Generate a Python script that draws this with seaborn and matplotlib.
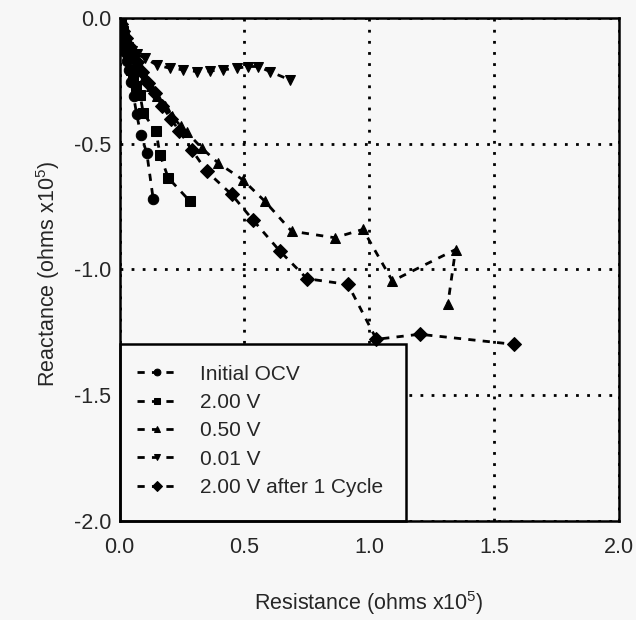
import numpy as np
import pandas as pd
import matplotlib
matplotlib.use("Agg")
import matplotlib.pyplot as plt
import matplotlib.patches as mpatches
import seaborn as sns

# ---- data (units of 1e5 ohms) ----
series_names = ["Initial OCV", "2.00 V", "0.50 V", "0.01 V", "2.00 V after 1 Cycle"]

ocv_x = [0.0, 0.004, 0.008, 0.012, 0.017, 0.023, 0.030, 0.039, 0.046, 0.056, 0.068, 0.085, 0.109, 0.135]
ocv_y = [0.0, -0.02, -0.045, -0.07, -0.10, -0.135, -0.17, -0.206, -0.253, -0.31, -0.38, -0.464, -0.537, -0.722]

v200_x = [0.0, 0.006, 0.012, 0.018, 0.025, 0.033, 0.045, 0.052, 0.065, 0.082, 0.095, 0.146, 0.162, 0.195, 0.282]
v200_y = [0.0, -0.025, -0.05, -0.08, -0.11, -0.145, -0.206, -0.24, -0.27, -0.306, -0.378, -0.451, -0.544, -0.636, -0.729]

v050_x = [0.0, 0.008, 0.018, 0.030, 0.045, 0.060, 0.080, 0.100, 0.125, 0.150, 0.180, 0.210, 0.245, 0.270,
          0.329, 0.395, 0.493, 0.582, 0.689, 0.862, 0.975, 1.093, 1.346, 1.315]
v050_y = [0.0, -0.03, -0.06, -0.09, -0.12, -0.15, -0.19, -0.23, -0.27, -0.31, -0.35, -0.39, -0.43, -0.455,
          -0.517, -0.577, -0.643, -0.729, -0.848, -0.874, -0.841, -1.046, -0.921, -1.139]

v001_x = [0.0, 0.005, 0.012, 0.022, 0.035, 0.050, 0.070, 0.102, 0.149, 0.202, 0.255, 0.309, 0.362,
          0.415, 0.469, 0.515, 0.555, 0.602, 0.682]
v001_y = [0.0, -0.03, -0.06, -0.09, -0.115, -0.13, -0.145, -0.16, -0.187, -0.20, -0.206, -0.213, -0.211,
          -0.206, -0.20, -0.193, -0.193, -0.213, -0.246]

cyc_x = [0.0, 0.006, 0.014, 0.024, 0.036, 0.050, 0.068, 0.090, 0.115, 0.140, 0.170, 0.205, 0.240,
         0.289, 0.349, 0.449, 0.533, 0.642, 0.751, 0.915, 1.029, 1.202, 1.579]
cyc_y = [0.0, -0.025, -0.05, -0.08, -0.11, -0.14, -0.175, -0.215, -0.26, -0.30, -0.35, -0.40, -0.45,
         -0.524, -0.61, -0.702, -0.802, -0.927, -1.037, -1.06, -1.278, -1.258, -1.298]

xs = [ocv_x, v200_x, v050_x, v001_x, cyc_x]
ys = [ocv_y, v200_y, v050_y, v001_y, cyc_y]

frames = []
for name, x, y in zip(series_names, xs, ys):
    frames.append(pd.DataFrame({"Resistance": x, "Reactance": y, "Series": name}))
df = pd.concat(frames, ignore_index=True)

markers = dict(zip(series_names, ["o", "s", "^", "v", "D"]))
dashes = {n: (2.6, 2.6) for n in series_names}

# ---- style ----
bg = "#f7f7f7"
sns.set_style("white")
plt.rcParams["font.family"] = ["Liberation Sans", "DejaVu Sans"]
plt.rcParams["mathtext.fontset"] = "custom"
plt.rcParams["mathtext.rm"] = "Liberation Sans"

fig = plt.figure(figsize=(6.36, 6.2), dpi=100, facecolor=bg)
ax = fig.add_axes([0.188, 0.160, 0.785, 0.811], facecolor=bg)

sns.lineplot(data=df, x="Resistance", y="Reactance", style="Series", markers=markers,
             dashes=dashes, color="black", sort=False, estimator=None, units="Series",
             markersize=7.5, linewidth=2.0, markeredgecolor="black", ax=ax)

ax.set_xlim(0, 2.0)
ax.set_ylim(-2.0, 0.0)
ax.set_xticks(np.arange(0, 2.01, 0.5))
ax.set_yticks(np.arange(-2.0, 0.01, 0.5))
ax.set_xticklabels([f"{v:.1f}" for v in np.arange(0, 2.01, 0.5)])
ax.set_yticklabels([f"{v:.1f}" for v in np.arange(-2.0, 0.01, 0.5)])
ax.tick_params(direction="in", length=11, width=1.8, labelsize=15.5, color="black")
ax.tick_params(axis="x", pad=12)
ax.tick_params(axis="y", pad=6)

ax.grid(True, color="black", linestyle=(0, (1, 3)), linewidth=2)
for s in ax.spines.values():
    s.set_color("black")
    s.set_linewidth(1.8)

ax.set_xlabel("Resistance (ohms x10$^{5}$)", fontsize=15.5)
ax.set_ylabel("Reactance (ohms x10$^{5}$)", fontsize=15.5)
ax.xaxis.set_label_coords(0.5, -0.136)
ax.yaxis.set_label_coords(-0.115, 0.49)

# legend box (square frame, drawn separately so its padding can match)
box = mpatches.Rectangle((0, 0), 0.574, 0.352, transform=ax.transAxes, facecolor=bg,
                         edgecolor="black", linewidth=1.8, zorder=1.9, clip_on=False)
ax.add_patch(box)

handles, labels = ax.get_legend_handles_labels()
for h in handles:
    h.set_color("black")
    h.set_markerfacecolor("black")
    h.set_markeredgecolor("black")
leg = ax.legend(handles, labels, loc="center left", bbox_to_anchor=(0.035, 0.179), borderaxespad=0,
                fontsize=15, frameon=False, handlelength=1.9, handletextpad=1.1, borderpad=0,
                labelspacing=0.45, markerscale=0.65)
leg.set_zorder(2.6)

fig.savefig("out.png", dpi=100, facecolor=bg)
